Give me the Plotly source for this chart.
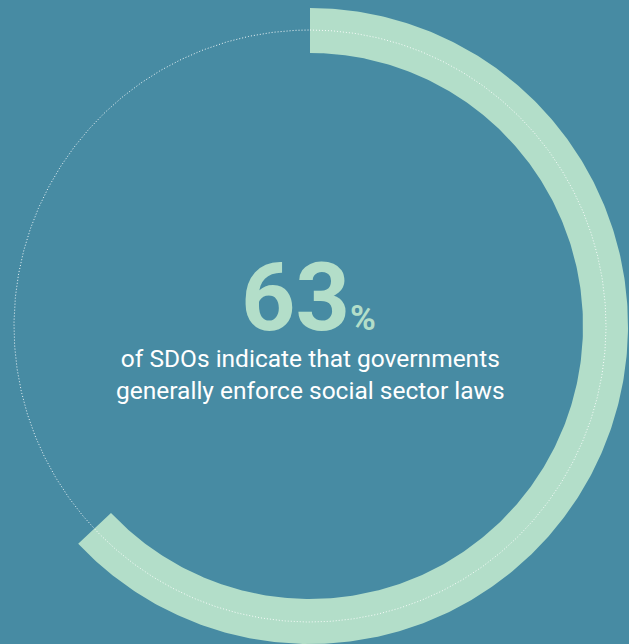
import numpy as np
import plotly.graph_objects as go

# Data
share_pct = 63
big_label = "63"
pct_label = "%"
caption_lines = ["of SDOs indicate that governments", "generally enforce social sector laws"]

BG = "#478BA3"
MINT = "#B3DEC9"

W, H = 629, 644
CX, CY = 310, 326          # circle centre in pixels (from top-left)
R_OUT, R_IN, R_DOT = 318, 273, 296

# arc polygon computed from the share (clockwise from 12 o'clock)
end = share_pct / 100 * 2 * np.pi
t = np.linspace(0, end, 400)
xo, yo = R_OUT * np.sin(t), R_OUT * np.cos(t)
xi, yi = R_IN * np.sin(t[::-1]), R_IN * np.cos(t[::-1])
arc_x = np.concatenate([xo, xi, xo[:1]])
arc_y = np.concatenate([yo, yi, yo[:1]])

tc = np.linspace(0, 2 * np.pi, 720)

fig = go.Figure()
fig.add_trace(go.Scatter(x=arc_x, y=arc_y, mode="lines", fill="toself",
                         fillcolor=MINT, line=dict(width=0, color=MINT),
                         hoverinfo="skip", showlegend=False))
fig.add_trace(go.Scatter(x=R_DOT * np.sin(tc), y=R_DOT * np.cos(tc), mode="lines",
                         line=dict(color="rgba(255,255,255,0.9)", width=1, dash="1px,2px"),
                         hoverinfo="skip", showlegend=False))

fig.add_annotation(x=-15, y=29, text=f"<b>{big_label}</b>", showarrow=False,
                   font=dict(family="Roboto", size=95, color=MINT),
                   xanchor="center", yanchor="middle")
fig.add_annotation(x=53, y=8, text=f"<b>{pct_label}</b>", showarrow=False,
                   font=dict(family="Roboto", size=35, color=MINT),
                   xanchor="center", yanchor="middle")
fig.add_annotation(x=0, y=-48, text="<br>".join(caption_lines), showarrow=False,
                   font=dict(family="Roboto", size=24.5, color="white"),
                   xanchor="center", yanchor="middle", align="center")

fig.update_xaxes(range=[-CX, W - CX], visible=False, fixedrange=True)
fig.update_yaxes(range=[CY - H, CY], visible=False, fixedrange=True)
fig.update_layout(width=W, height=H, margin=dict(l=0, r=0, t=0, b=0),
                  paper_bgcolor=BG, plot_bgcolor=BG)

fig.write_html("out.html", config={"displayModeBar": False})
